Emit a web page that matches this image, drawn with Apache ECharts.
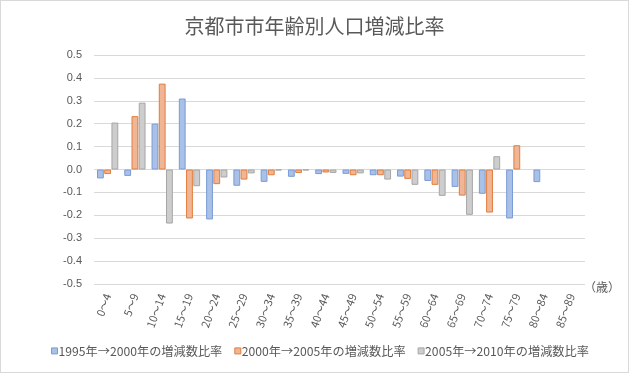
<!DOCTYPE html>
<html>
<head>
<meta charset="utf-8">
<script src="https://cdn.jsdelivr.net/npm/echarts@6/dist/echarts.min.js"></script>
<style>
html,body{margin:0;padding:0;background:#fff;}
#c{width:629px;height:373px;box-sizing:border-box;border:1px solid #d9d9d9;}
</style>
</head>
<body>
<div id="c"></div>
<script>
var categories = ['0〜4','5〜9','10〜14','15〜19','20〜24','25〜29','30〜34','35〜39','40〜44','45〜49','50〜54','55〜59','60〜64','65〜69','70〜74','75〜79','80〜84','85〜89'];
var seriesNames = ['1995年→2000年の増減数比率','2000年→2005年の増減数比率','2005年→2010年の増減数比率'];
var s1995 = [-0.039,-0.028,0.200,0.310,-0.218,-0.071,-0.054,-0.032,-0.020,-0.019,-0.025,-0.031,-0.050,-0.076,-0.106,-0.214,-0.055,null];
var s2000 = [-0.020,0.233,0.375,-0.214,-0.064,-0.044,-0.025,-0.015,-0.013,-0.025,-0.025,-0.041,-0.067,-0.114,-0.188,0.106,null,null];
var s2005 = [0.205,0.292,-0.236,-0.073,-0.035,-0.017,-0.004,-0.004,-0.015,-0.017,-0.044,-0.067,-0.115,-0.198,0.058,null,null,null];
var yTicks = {min:-0.5,max:0.5,interval:0.1};
var titleText = '京都市市年齢別人口増減比率';
var unitText = '（歳）';

var fills = ['#a9c0e7','#efb594','#cdcdcd'];
var borders = ['#7a9bd6','#e07e3e','#a6a6a6'];
var data = [s1995,s2000,s2005];
var font = "'Noto Sans CJK JP','Noto Sans',sans-serif";

var chart = echarts.init(document.getElementById('c'), null, {renderer:'canvas'});
chart.setOption({
  animation:false,
  backgroundColor:'#fff',
  title:{text:titleText,left:'center',top:10,
    textStyle:{fontFamily:font,fontSize:20,fontWeight:'normal',color:'#595959'}},
  legend:{bottom:10,left:45,itemWidth:6,itemHeight:6,itemGap:12,
    textStyle:{fontFamily:font,fontSize:12.2,color:'#595959',padding:[0,0,0,-4]},
    data:seriesNames.map(function(n,i){return {name:n,icon:'rect',itemStyle:{color:fills[i],borderColor:borders[i],borderWidth:1}};})},
  grid:{left:93,right:43,top:54,bottom:88,containLabel:false},
  xAxis:{type:'category',data:categories,
    axisLine:{show:false,onZero:false},axisTick:{show:false},
    axisLabel:{rotate:70,interval:0,margin:10,fontFamily:font,fontSize:11,color:'#595959'}},
  yAxis:{type:'value',min:yTicks.min,max:yTicks.max,interval:yTicks.interval,
    axisLine:{show:false},axisTick:{show:false},
    splitLine:{lineStyle:{color:'#d9d9d9',width:1}},
    axisLabel:{fontFamily:"'Liberation Sans',sans-serif",fontSize:11,color:'#595959',margin:12,
      formatter:function(v){return v.toFixed(1);}}},
  graphic:[{type:'text',left:583,top:280,style:{text:unitText,font:"12px 'Noto Sans CJK JP'",fill:'#595959'}}],
  series:data.map(function(d,i){return {
    name:seriesNames[i],type:'bar',data:d,barGap:'6%',barCategoryGap:'22%',
    itemStyle:{color:fills[i],borderColor:borders[i],borderWidth:1}
  };})
});
</script>
</body>
</html>
